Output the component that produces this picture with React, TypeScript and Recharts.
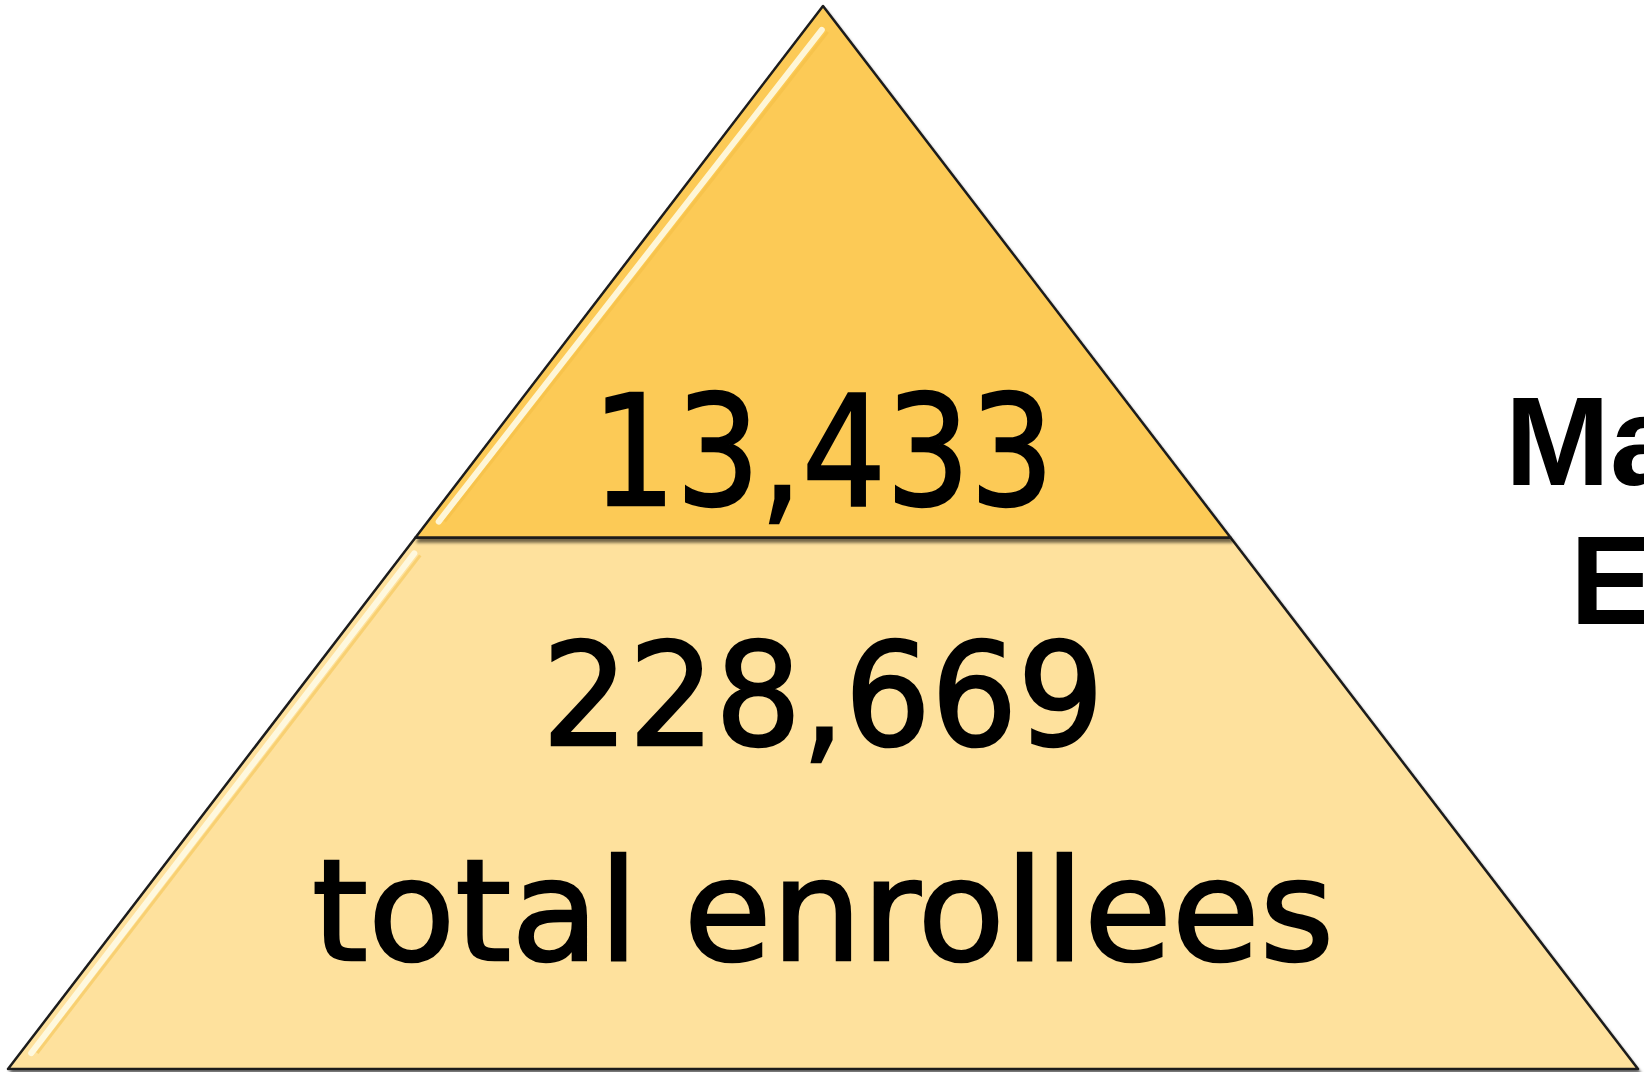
import { FunnelChart, Funnel } from 'recharts';

// tiers listed from the base of the pyramid to its tip (Funnel is drawn reversed)
const tierValues = [228669, 13433];
const tierCaptions = ['total enrollees', ''];
const tierFills = ['#FEE19D', '#FCCA56'];
const sideTitle = ['Managed Care', 'Enrollees'];

const data = tierValues.map((v, i) => ({
  name: tierCaptions[i] || 'subset',
  count: v,
  caption: tierCaptions[i],
  // pyramid step: the base is widest, the tip is a triangle
  step: tierValues.length - i,
  fill: tierFills[i],
}));

const numFont = '"DejaVu Sans", sans-serif';

function PyramidTier(props: any) {
  const { x, y, upperWidth, lowerWidth, height, payload } = props;
  const p = payload ?? props;
  const gap = (upperWidth - lowerWidth) / 2;
  const x2 = x + upperWidth;
  const x3 = x2 - gap;
  const x4 = x3 - lowerWidth;
  const pts = `${x},${y} ${x2},${y} ${x3},${y + height} ${x4},${y + height}`;
  const cx = x + upperWidth / 2;
  // glossy highlight running down the left edge
  const ins = 11;
  const hx1 = x + ins + (x4 - x) * 0.03;
  const hy1 = y + height * 0.03 + (upperWidth === 0 ? 8 : 0);
  const hx2 = x4 + ins + (x - x4) * 0.03;
  const hy2 = y + height * 0.97;
  const label = Number(p.count).toLocaleString('en-US');
  return (
    <g>
      <polygon points={pts} fill={p.fill} stroke="#1c1c1c" strokeWidth={2.5} strokeLinejoin="round" filter="url(#tierShadow)" />
      <line x1={hx1} y1={hy1} x2={hx2} y2={hy2} stroke="#FFFBE6" strokeWidth={6} strokeLinecap="round" opacity={0.9} />
      <line x1={hx1 + 6} y1={hy1 + 2} x2={hx2 + 6} y2={hy2} stroke="#F2BC40" strokeWidth={3} opacity={0.45} />
      {p.caption ? (
        <>
          <text x={cx} y={y + height * 0.39} textAnchor="middle" fontFamily={numFont} fontSize={142}
            textLength={562} lengthAdjust="spacingAndGlyphs" fill="#000" stroke="#000" strokeWidth={2.5}>
            {label}
          </text>
          <text x={cx} y={y + height * 0.795} textAnchor="middle" fontFamily={numFont} fontSize={140}
            textLength={1022} lengthAdjust="spacingAndGlyphs" fill="#000" stroke="#000" strokeWidth={2.5}>
            {p.caption}
          </text>
        </>
      ) : (
        <text x={cx} y={y + height * 0.939} textAnchor="middle" fontFamily={numFont} fontSize={153}
          textLength={462} lengthAdjust="spacingAndGlyphs" fill="#000" stroke="#000" strokeWidth={2.5}>
          {label}
        </text>
      )}
    </g>
  );
}

export default function App() {
  return (
    <div style={{ position: 'fixed', left: 0, top: 0, width: 1644, height: 1072, overflow: 'hidden', background: '#fff' }}>
      <svg width={0} height={0} style={{ position: 'absolute' }}>
        <defs>
          <filter id="tierShadow" x="-5%" y="-5%" width="110%" height="115%">
            <feDropShadow dx={2} dy={4} stdDeviation={1.5} floodColor="#000" floodOpacity={0.55} />
          </filter>
        </defs>
      </svg>
      <div style={{ position: 'absolute', left: 0, top: 0 }}>
        <FunnelChart width={1644} height={1072} margin={{ top: 6, left: 8, right: 6, bottom: 3 }}>
          <Funnel
            data={data}
            dataKey="step"
            nameKey="name"
            reversed
            lastShapeType="triangle"
            isAnimationActive={false}
            shape={PyramidTier}
          />
        </FunnelChart>
      </div>
      <svg width={1644} height={1072} style={{ position: 'absolute', left: 0, top: 0 }}>
        <text x={1505} y={485} fontFamily='"Liberation Sans", Arial, sans-serif' fontWeight="bold" fontSize={126} fill="#000">
          {sideTitle[0]}
        </text>
        <text x={1570} y={624} fontFamily='"Liberation Sans", Arial, sans-serif' fontWeight="bold" fontSize={126} fill="#000">
          {sideTitle[1]}
        </text>
      </svg>
    </div>
  );
}
